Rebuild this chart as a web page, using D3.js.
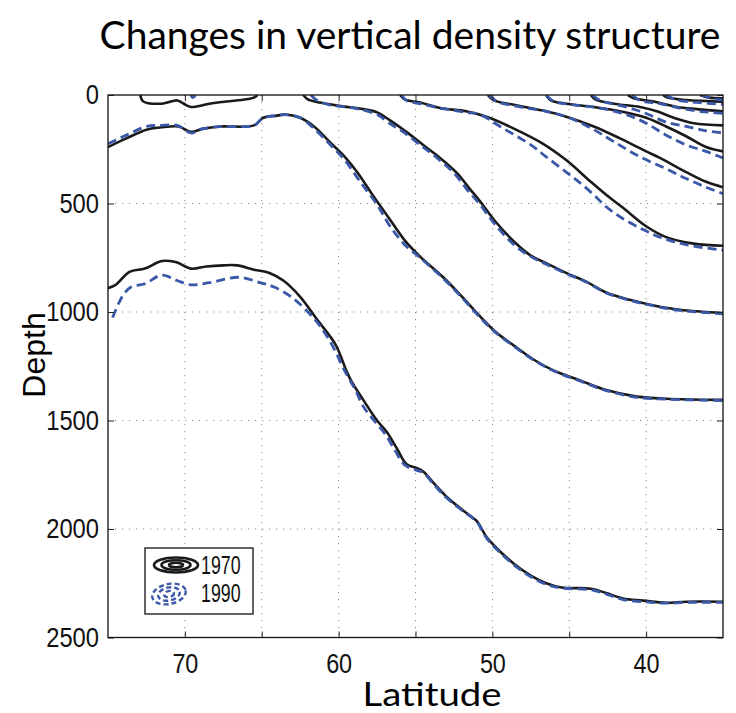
<!DOCTYPE html>
<html>
<head>
<meta charset="utf-8">
<script src="https://cdn.jsdelivr.net/npm/d3@7"></script>
<style>
  body { margin: 0; background: #fff; }
  svg { display: block; }
</style>
</head>
<body>
<svg id="chart" width="736" height="713"></svg>
<script>
// isopycnal contours, [latitude, depth]
// 1970 (solid black)
const c70_a = [[72.9,0],[72.7,30],[71.5,40],[70.5,25],[70.2,35],[69.6,55],[68.4,40],[67.3,30],[66.0,20],[65.4,8],[65.3,0]];
const c70_b = [[75.0,240],[73.8,200],[72.5,160],[71.6,150],[70.4,145],[69.6,170],[68.8,155],[67.7,145],[65.5,140],[64.9,105],[64.0,95],[63.5,90],[62.5,105],[61.6,145],[60.6,215],[59.6,285],[58.8,355],[57.7,470],[56.7,570],[55.7,670],[54.7,745],[53.2,840],[52.1,920],[50.8,1020],[49.9,1085],[48.6,1155],[47.3,1220],[46.0,1270],[44.3,1315],[42.6,1360],[40.6,1390],[38.7,1400],[35.0,1405]];
const c70_c = [[75.0,890],[74.5,875],[73.6,815],[72.6,800],[71.5,765],[70.6,770],[69.6,800],[68.6,790],[67.5,785],[66.6,785],[65.5,805],[64.5,820],[63.6,855],[62.5,930],[61.4,1035],[60.2,1150],[59.5,1270],[59.2,1315],[58.4,1405],[57.5,1500],[56.9,1550],[56.2,1630],[55.6,1700],[54.9,1720],[54.5,1735],[53.8,1790],[53.0,1850],[51.9,1915],[51.0,1965],[50.4,2035],[49.7,2090],[48.6,2160],[47.5,2215],[46.5,2250],[45.5,2270],[43.6,2275],[42.6,2295],[41.5,2320],[40.2,2330],[38.7,2340],[37.4,2335],[35.0,2335]];
const c70_d = [[62.3,0],[62.0,20],[61.2,35],[60.0,50],[58.4,65],[57.5,80],[56.7,115],[55.6,170],[54.5,230],[53.4,290],[52.3,360],[51.5,430],[50.8,490],[49.9,575],[48.6,675],[47.5,740],[46.5,775],[45.2,820],[43.9,860],[42.6,910],[41.0,945],[39.5,970],[37.8,990],[35.0,1005]];
const c70_e = [[56.0,0],[55.7,20],[54.7,35],[53.4,60],[51.7,75],[50.2,105],[48.6,155],[46.7,225],[45.2,300],[43.6,400],[42.6,460],[41.5,520],[40.0,605],[38.7,655],[36.9,685],[35.0,695]];
const c70_f = [[50.3,0],[49.9,25],[48.6,45],[46.5,75],[45.2,100],[43.4,145],[41.7,200],[40.0,260],[39.1,290],[37.4,355],[36.1,400],[35.0,425]];
const c70_g = [[46.5,0],[46.2,25],[45.2,40],[43.4,55],[41.7,75],[40.0,105],[38.7,145],[37.4,190],[36.1,240],[35.0,260]];
const c70_h = [[43.6,0],[43.3,20],[42.1,40],[40.4,55],[39.3,75],[38.2,105],[36.9,130],[35.0,140]];
const c70_i = [[41.2,0],[40.8,15],[39.5,30],[38.0,55],[36.7,65],[35.0,75]];
const c70_j = [[38.9,0],[38.6,12],[37.4,23],[36.1,28],[35.0,31]];
const c70_k = [[36.5,0],[35.9,12],[35.0,15]];

// 1990 (dashed blue)
const c90_a = [[69.6,0],[69.5,12],[69.3,0]];
const c90_b = [[75.0,225],[73.8,185],[72.5,145],[71.6,140],[70.5,140],[69.6,175],[68.8,155],[67.5,145],[65.5,140],[64.9,105],[64.0,95],[63.5,90],[62.5,105],[61.6,155],[60.6,225],[59.6,300],[58.6,400],[57.5,505],[56.7,600],[55.7,690],[54.7,750],[53.2,845],[52.1,925],[50.8,1025],[49.9,1088],[48.6,1158],[47.3,1222],[46.0,1272],[44.3,1318],[42.6,1362],[40.6,1393],[38.7,1402],[35.0,1408]];
const c90_c = [[74.7,1025],[74.0,920],[73.5,885],[72.6,870],[71.5,830],[70.5,855],[69.6,875],[68.4,865],[66.5,840],[65.1,865],[64.2,885],[63.0,935],[61.6,1030],[60.6,1130],[59.5,1285],[58.9,1360],[58.4,1435],[57.7,1500],[57.0,1560],[56.4,1630],[55.7,1705],[54.9,1730],[54.5,1740],[53.8,1795],[53.0,1855],[51.9,1918],[51.0,1968],[50.4,2040],[49.7,2095],[48.6,2165],[47.5,2220],[46.5,2255],[45.5,2272],[43.6,2280],[42.6,2300],[41.5,2325],[40.2,2335],[38.7,2342],[37.4,2338],[35.0,2338]];
const c90_d = [[61.8,0],[61.4,25],[60.6,45],[59.0,60],[57.5,90],[56.7,130],[55.8,170],[54.7,230],[53.6,290],[52.5,360],[51.6,440],[50.8,505],[49.9,590],[48.6,690],[47.5,745],[46.5,780],[45.2,823],[43.9,862],[42.6,912],[41.0,947],[39.5,972],[37.8,993],[35.0,1008]];
const c90_e = [[55.9,0],[55.6,25],[54.7,40],[53.4,60],[51.7,80],[50.8,90],[49.5,145],[47.5,230],[46.5,285],[45.2,355],[44.3,405],[43.4,460],[42.6,515],[41.5,570],[40.2,620],[39.1,655],[37.4,690],[35.0,715]];
const c90_f = [[50.2,0],[49.7,30],[48.2,55],[46.5,75],[45.0,105],[43.4,160],[42.1,215],[40.4,285],[38.7,340],[37.4,385],[36.1,425],[35.0,455]];
const c90_g = [[46.5,0],[46.0,30],[44.7,45],[43.0,60],[41.3,90],[40.0,130],[38.7,185],[37.4,230],[36.1,260],[35.0,290]];
const c90_h = [[43.5,0],[43.0,25],[41.3,55],[40.0,85],[38.7,125],[37.4,145],[36.1,165],[35.0,175]];
const c90_i = [[40.9,0],[40.4,25],[39.1,40],[37.8,60],[36.5,75],[35.0,85]];
const c90_j = [[38.7,0],[38.0,23],[36.7,34],[35.0,43]];
const c90_k = [[36.4,0],[35.6,18],[35.0,23]];

const lines1970 = [c70_a, c70_b, c70_c, c70_d, c70_e, c70_f, c70_g, c70_h, c70_i, c70_j, c70_k];
const lines1990 = [c90_a, c90_b, c90_c, c90_d, c90_e, c90_f, c90_g, c90_h, c90_i, c90_j, c90_k];

const latTicks = [70, 60, 50, 40];
const latGrid = [70, 65, 60, 55, 50, 45, 40];
const depthTicks = [0, 500, 1000, 1500, 2000, 2500];
const legendYears = ["1970", "1990"];

const svg = d3.select("#chart");
const pLeft = 108, pTop = 95, pRight = 723, pBottom = 637.5;
const black = "#1a1a1a", blue = "#3a58a8";

const x = d3.scaleLinear().domain([75, 35]).range([pLeft, pRight]);
const y = d3.scaleLinear().domain([0, 2500]).range([pTop, pBottom]);

// title
svg.append("text")
  .attr("x", 410).attr("y", 49)
  .attr("text-anchor", "middle")
  .style("font-family", "Lato, 'Open Sans', sans-serif")
  .style("font-size", "39px")
  .attr("fill", "#000")
  .text("Changes in vertical density structure");

svg.append("defs").append("clipPath").attr("id", "plotclip")
  .append("rect").attr("x", pLeft).attr("y", pTop)
  .attr("width", pRight - pLeft).attr("height", pBottom - pTop);

// dotted grid
const grid = svg.append("g").attr("stroke", "#8a8a8a").attr("stroke-width", 1)
  .attr("stroke-dasharray", "1.2,5.8");
grid.selectAll("line.v").data(latGrid).enter().append("line")
  .attr("x1", d => x(d)).attr("x2", d => x(d))
  .attr("y1", pTop).attr("y2", pBottom);
grid.selectAll("line.h").data(depthTicks.slice(1, -1)).enter().append("line")
  .attr("x1", pLeft).attr("x2", pRight)
  .attr("y1", d => y(d)).attr("y2", d => y(d));

// contours
const line = d3.line()
  .x(d => x(d[0])).y(d => y(d[1]))
  .curve(d3.curveCatmullRom.alpha(0.5));

const plot = svg.append("g").attr("clip-path", "url(#plotclip)");
plot.selectAll("path.l70").data(lines1970).enter().append("path")
  .attr("d", line).attr("fill", "none")
  .attr("stroke", black).attr("stroke-width", 2.6)
  .attr("stroke-linejoin", "round");
plot.selectAll("path.l90").data(lines1990).enter().append("path")
  .attr("d", line).attr("fill", "none")
  .attr("stroke", blue).attr("stroke-width", 2.8)
  .attr("stroke-dasharray", "9,5");

// axes (ticks inside, box) - narrow helvetica look via textLength
const tickFont = "'Liberation Sans', Arial, sans-serif";
function narrow(sel, size, per) {
  sel.style("font-family", tickFont).style("font-size", size + "px").attr("fill", "#111")
    .attr("lengthAdjust", "spacingAndGlyphs")
    .attr("textLength", function () { return this.textContent.length * per; });
}
const xAxis = d3.axisBottom(x).tickValues(latGrid).tickSize(-6).tickPadding(16)
  .tickFormat(d => latTicks.includes(d) ? d : "");
const gx = svg.append("g").attr("transform", `translate(0,${pBottom})`).call(xAxis);
gx.select(".domain").remove();
gx.selectAll("text").filter(d => latTicks.includes(d)).call(narrow, 28, 13);

const yAxis = d3.axisLeft(y).tickValues(depthTicks).tickSize(-6).tickPadding(9)
  .tickFormat(d3.format("d"));
const gy = svg.append("g").attr("transform", `translate(${pLeft},0)`).call(yAxis);
gy.select(".domain").remove();
gy.selectAll("text").call(narrow, 28, 13.2);

const gyr = svg.append("g").attr("transform", `translate(${pRight},0)`)
  .call(d3.axisRight(y).tickValues(depthTicks).tickSize(-6).tickFormat(""));
gyr.select(".domain").remove();
const gxt = svg.append("g").attr("transform", `translate(0,${pTop})`)
  .call(d3.axisTop(x).tickValues(latGrid).tickSize(-6).tickFormat(""));
gxt.select(".domain").remove();
svg.selectAll(".tick line").attr("stroke", "#222");

svg.append("rect").attr("x", pLeft).attr("y", pTop)
  .attr("width", pRight - pLeft).attr("height", pBottom - pTop)
  .attr("fill", "none").attr("stroke", "#111").attr("stroke-width", 1.3);

// axis labels
svg.append("text")
  .attr("x", 432).attr("y", 706).attr("text-anchor", "middle")
  .style("font-family", "Lato, 'Open Sans', sans-serif").style("font-size", "33px")
  .attr("textLength", 139).attr("lengthAdjust", "spacingAndGlyphs")
  .text("Latitude");
svg.append("text")
  .attr("transform", "translate(45,355) rotate(-90)").attr("text-anchor", "middle")
  .style("font-family", "'Liberation Sans', Arial, sans-serif").style("font-size", "32px")
  .text("Depth");

// legend
const lg = svg.append("g");
lg.append("rect").attr("x", 145).attr("y", 548).attr("width", 108).attr("height", 66)
  .attr("fill", "#fff").attr("stroke", "#111").attr("stroke-width", 1.3);
const ringsK = [[22, 7.5], [14.5, 4.8], [7, 2.2]];
lg.selectAll("ellipse.k").data(ringsK).enter().append("ellipse")
  .attr("cx", 176).attr("cy", 565).attr("rx", d => d[0]).attr("ry", d => d[1])
  .attr("fill", "none").attr("stroke", black).attr("stroke-width", 2.6);
const ringsB = [[17, 10], [11, 6.5], [5, 3]];
lg.selectAll("ellipse.b").data(ringsB).enter().append("ellipse")
  .attr("cx", 169).attr("cy", 594).attr("rx", d => d[0]).attr("ry", d => d[1])
  .attr("transform", "rotate(-12,169,594)")
  .attr("fill", "none").attr("stroke", blue).attr("stroke-width", 2.4)
  .attr("stroke-dasharray", "5,3");
lg.selectAll("text.yr").data(legendYears).enter().append("text")
  .attr("x", 201).attr("y", (d, i) => 574 + i * 28)
  .text(d => d)
  .call(narrow, 25, 9.9);
</script>
</body>
</html>
